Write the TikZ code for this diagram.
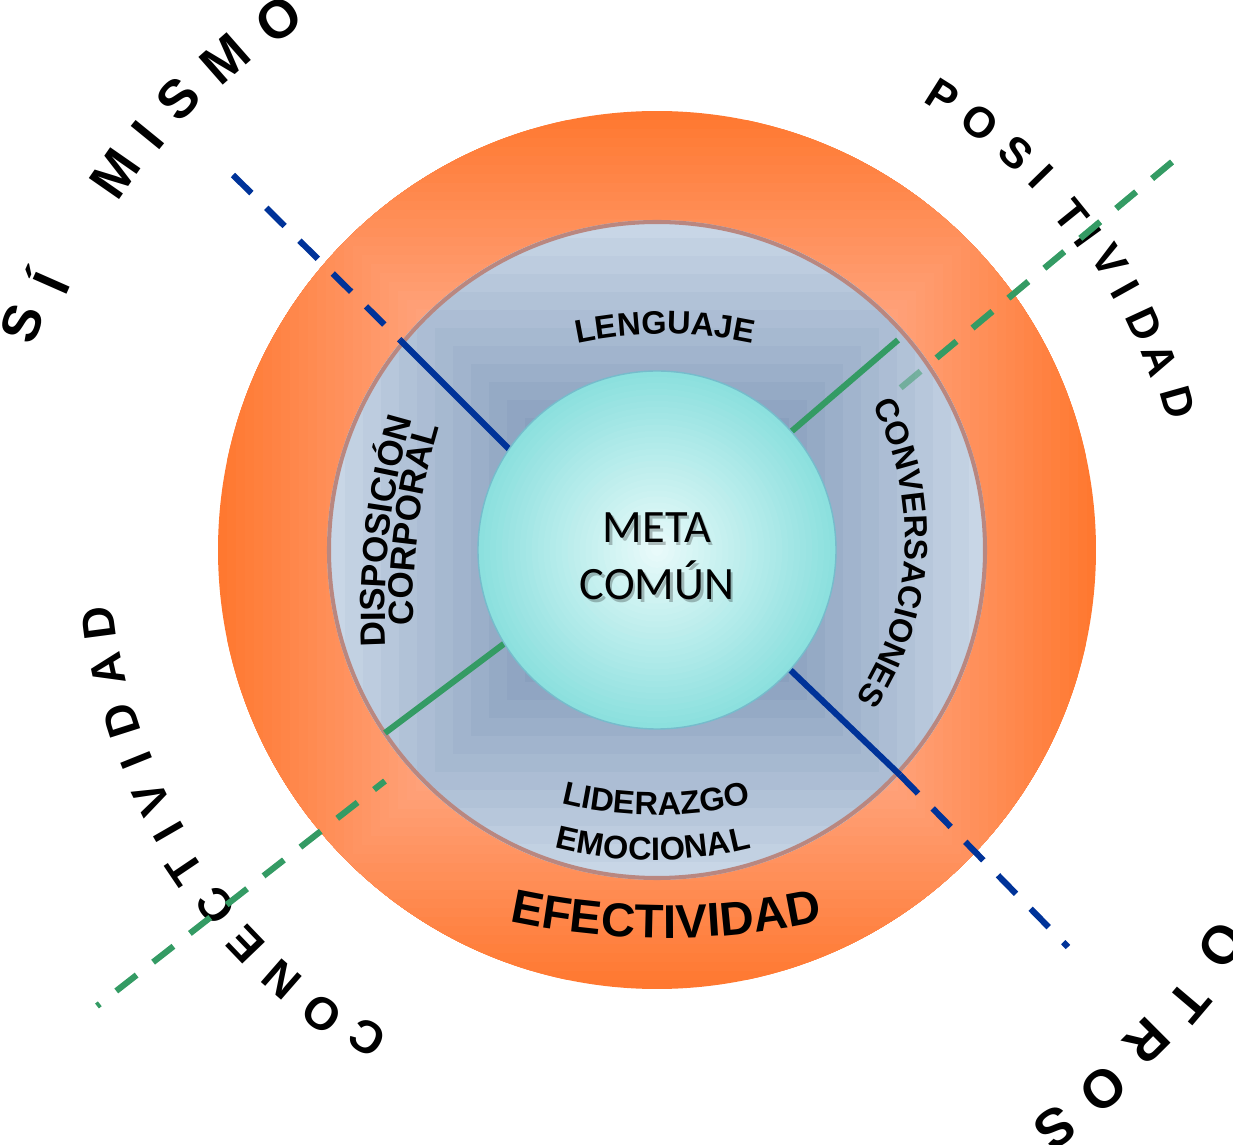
\documentclass[tikz,border=0pt]{standalone}
\usepackage{fontspec}
\setmainfont{Liberation Sans}
\newfontfamily\calibrifont{Carlito}
\usetikzlibrary{decorations.text}

\definecolor{ringout}{RGB}{255,120,48}
\definecolor{ringin}{RGB}{255,165,128}
\definecolor{midout}{RGB}{200,214,230}
\definecolor{midin}{RGB}{138,160,190}
\definecolor{midborder}{RGB}{185,135,128}
\definecolor{metaout}{RGB}{140,224,222}
\definecolor{metain}{RGB}{232,250,250}
\definecolor{metaborder}{RGB}{118,188,204}
\definecolor{blueline}{RGB}{0,51,153}
\definecolor{greenline}{RGB}{52,155,100}

\newcommand\arclabelfont{\fontsize{18.5}{20}\selectfont\bfseries}
\newcommand\sidelabelfont{\fontsize{20}{22}\selectfont\bfseries}
\newcommand\ringlabelfont{\fontsize{27}{30}\selectfont\bfseries}

\begin{document}
\begin{tikzpicture}[x=0.02cm, y=0.02cm,
    ringletter/.style={inner sep=0pt, text height=0.72em, text depth=0pt,
      font=\fontsize{#1}{#1}\selectfont\bfseries},
    dashline/.style={line width=3.5pt, dash pattern=on 14.7pt off 11.9pt},
    solidline/.style={line width=3.5pt},
    arclabel/.style={decorate, decoration={text along path, text align=center, text={#1}}},
    metatext/.style={inner sep=0pt, anchor=base, font=\calibrifont\fontsize{26.4}{32}\selectfont}
  ]
  \useasboundingbox (-657,-595) rectangle (576,550);

  % words round the outside
  \foreach \a/\rad/\l [count=\i] in {160.4/662/S, 156.2/650/Í, 145.2/648/M, 140.8/645/I,
      136.7/646/S, 131.3/642/M, 125.5/640/O}
    \node[ringletter=30.5, rotate=\a-90] (mismo-\i) at (\a:\rad) {\l};
  \foreach \a/\rad/\l [count=\i] in {57.8/527/P, 52.9/527/O, 47.9/527/S, 44.2/528/I,
      38.9/524/T, 36.0/524/I, 32.6/529/V, 29.1/528/I, 24.8/529/D, 20.7/529/A, 15.8/533/D}
    \node[ringletter=24.5, rotate=\a-90] (posit-\i) at (\a:\rad) {\l};
  \foreach \a/\rad/\l [count=\i] in {239.3/558/C, 234.2/563/O, 228.9/561/N, 223.8/561/E,
      218.9/557/C, 214.0/560/T, 210.0/554/I, 206.2/554/V, 202.0/552/I, 197.7/553/D,
      192.3/553/A, 187.5/554/D}
    \node[ringletter=26, rotate=\a-90] (conec-\i) at (\a:\rad) {\l};
  \foreach \a/\rad/\l [count=\i] in {-35.0/677/O, -40.3/686/T, -45.1/682/R, -50.4/688/O, -55.4/690/S}
    \node[ringletter=30.5, rotate=\a-90] (otros-\i) at (\a:\rad) {\l};

  % orange ring
  \begin{scope}
    \clip (0,0) circle[radius=439];
    \foreach \i in {0,...,24}{
      \pgfmathsetmacro{\s}{439-9*\i}
      \pgfmathsetmacro{\p}{100*\i/24}
      \fill[ringin!\p!ringout] (-\s,-\s) rectangle (\s,\s);
    }
  \end{scope}

  \coordinate (blueA) at (-424,375);
  \coordinate (blueB) at (-257,210);
  \coordinate (blueC) at (-140,93);
  \coordinate (blueD) at (125,-112);
  \coordinate (blueE) at (243,-225);
  \coordinate (blueF) at (411,-397);
  \coordinate (greenA) at (515,388);
  \coordinate (greenB) at (241,160);
  \coordinate (greenC) at (241,210);
  \coordinate (greenD) at (128,113);
  \coordinate (greenE) at (-144,-87);
  \coordinate (greenF) at (-272,-183);
  \coordinate (greenG) at (-272,-231);
  \coordinate (greenH) at (-560,-456);

  % dashed parts
  \draw[dashline, blueline] (blueA) -- (blueB);
  \draw[dashline, blueline] (blueE) -- (blueF);
  \draw[dashline, greenline] (greenA) -- (greenB);
  \draw[dashline, greenline, dash phase=6.8pt] (greenG) -- (greenH);

  % middle disc
  \begin{scope}
    \clip (0,0) circle[radius=330];
    \foreach \i in {0,...,18}{
      \pgfmathsetmacro{\s}{330-18*\i}
      \pgfmathsetmacro{\p}{min(100,100*\i/11)}
      \fill[midin!\p!midout] (-\s,-\s) rectangle (\s,\s);
    }
  \end{scope}
  \draw[midborder, line width=2.3pt] (0,0) circle[radius=328];
  \draw[dashline, greenline, opacity=0.5] (greenA) -- (greenB);

  % solid parts
  \draw[solidline, blueline] (blueB) -- (blueC);
  \draw[solidline, blueline] (blueD) -- (blueE);
  \draw[solidline, greenline] (greenC) -- (greenD);
  \draw[solidline, greenline] (greenE) -- (greenF);

  % inner disc
  \foreach \i in {0,...,29}{
    \pgfmathsetmacro{\rad}{179*(1-\i/30)}
    \pgfmathsetmacro{\p}{100*\i/29}
    \fill[metain!\p!metaout] (0,0) circle[radius=\rad];
  }
  \draw[metaborder, line width=0.8pt] (0,0) circle[radius=179];

  % labels
  \path[arclabel={|\arclabelfont|LENGUAJE}]
    ([shift={(8,-204)}]130:420) arc[start angle=130, end angle=50, radius=420];
  \path[arclabel={|\sidelabelfont|DISPOSICIÓN}]
    ([shift={(400,-60)}]198.3:672) arc[start angle=198.3, end angle=148.3, radius=672];
  \path[arclabel={|\sidelabelfont|CORPORAL}]
    ([shift={(400,-60)}]197.4:644) arc[start angle=197.4, end angle=147.4, radius=644];
  \path[arclabel={|\arclabelfont|CONVERSACIONES}]
    ([shift={(-37,12)}]56.8:285) arc[start angle=56.8, end angle=-63.2, radius=285];
  \path[arclabel={|\arclabelfont|LIDERAZGO}]
    ([shift={(-1,125)}]230:390) arc[start angle=230, end angle=310, radius=390];
  \path[arclabel={|\arclabelfont|EMOCIONAL}]
    ([shift={(-4,90)}]230:400) arc[start angle=230, end angle=310, radius=400];
  \path[arclabel={|\ringlabelfont|EFECTIVIDAD}]
    ([shift={(9,362)}]250:750) arc[start angle=250, end angle=290, radius=750];

  \node[metatext, black, opacity=0.25] (metashadow) at (2.5,4.5) {META};
  \node[metatext] (meta) at (0,7) {META};
  \node[metatext, black, opacity=0.25] (comunshadow) at (2.5,-52.5) {COMÚN};
  \node[metatext] (comun) at (0,-50) {COMÚN};
\end{tikzpicture}
\end{document}
